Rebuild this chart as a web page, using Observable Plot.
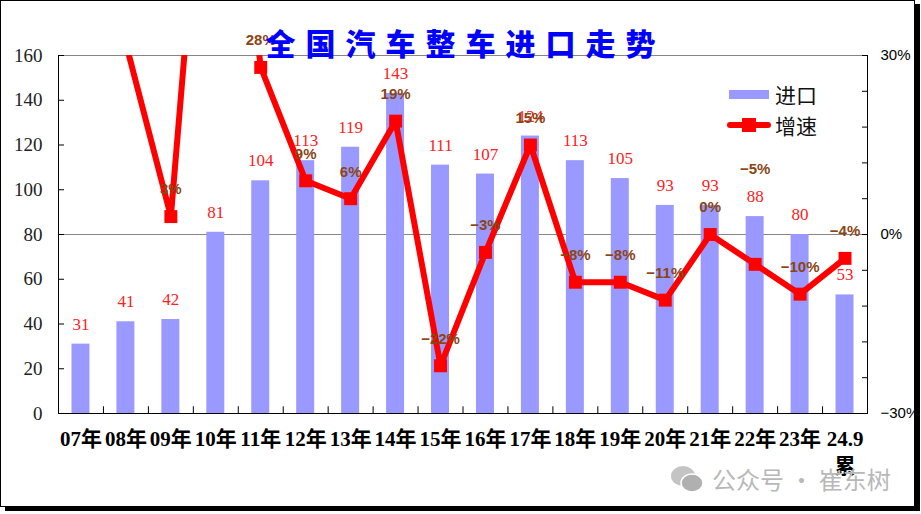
<!DOCTYPE html>
<html><head><meta charset="utf-8">
<script src="https://cdn.jsdelivr.net/npm/d3@7"></script>
<script src="https://cdn.jsdelivr.net/npm/@observablehq/plot@0.6"></script>
<style>
body{margin:0;background:#fff;}
#wrap{position:relative;width:921px;height:514px;overflow:hidden;}
#frame{position:absolute;left:0;top:0;width:913px;height:505px;border:1px solid #000;box-shadow:5px 4px 0 #000;}
#chart{position:absolute;left:0;top:0;}
#title{position:absolute;left:0;width:921px;top:20px;text-align:center;font:900 30px "Noto Sans CJK SC";color:#0000ff;letter-spacing:10px;padding-left:10px;box-sizing:border-box;}
.leg{position:absolute;font:21px "Noto Sans CJK SC";color:#111;}
#wm{position:absolute;left:670px;top:461px;font:24px "Noto Sans CJK SC";color:#b8b8b8;display:flex;align-items:center;gap:8px;}
</style></head><body>
<div id="wrap">
<div id="frame"></div>
<div id="chart"></div>
<div id="title"></div>
<div style="position:absolute;left:729px;top:90px;width:40px;height:9px;background:#9999ff"></div>
<div class="leg" style="left:775px;top:79px">进口</div>
<div style="position:absolute;left:727px;top:122px;width:44px;height:6px;background:#ff0000;border-radius:3px"></div>
<div style="position:absolute;left:742px;top:118px;width:14px;height:14px;background:#ff0000"></div>
<div class="leg" style="left:775px;top:110px">增速</div>
<div id="wm"><svg width="34" height="30" viewBox="0 0 34 30"><ellipse cx="13" cy="12" rx="12" ry="10" fill="#c4c4c4"/><ellipse cx="22" cy="19" rx="11" ry="9" fill="#b0b0b0" stroke="#fff" stroke-width="1.5"/></svg><span>公众号 · 崔东树</span></div>
</div>
<script>
const titleText = "全国汽车整车进口走势";
const years = ["07年","08年","09年","10年","11年","12年","13年","14年","15年","16年","17年","18年","19年","20年","21年","22年","23年","24.9\n累"];
const imports = [31,41,42,81,104,113,119,143,111,107,124,113,105,93,93,88,80,53];
const growth = [null,32,3,93,28,9,6,19,-22,-3,15,-8,-8,-11,0,-5,-10,-4];
const leftTicks = [0,20,40,60,80,100,120,140,160];
const rightTicks = [-30,-24,-18,-12,-6,0,6,12,18,24,30];
const rightLabels = {"-30":"\u221230%","0":"0%","30":"30%"};
const seriesNames = ["进口","增速"];

document.getElementById("title").textContent = titleText;

const toY = g => 80 + g * 80 / 30;
const data = years.map((year, i) => ({year, v: imports[i], g: growth[i]}));
const lineData = data.filter(d => d.g != null);
const labelData = lineData.filter(d => d.g <= 30);
const special = "22年";

const chart = Plot.plot({
  width: 921, height: 514,
  marginLeft: 58, marginRight: 54, marginTop: 55, marginBottom: 101,
  style: {background: "transparent", overflow: "visible", color: "#000", fontFamily: "'Liberation Serif','Noto Sans CJK SC'"},
  x: {domain: years, paddingInner: 0.6, paddingOuter: 0.3, round: false, label: null},
  y: {domain: [0, 160], label: null},
  marks: [
    Plot.frame({stroke: "#000"}),
    Plot.ruleY([80, 160], {stroke: "#868686"}),
    Plot.barY(data, {x: "year", y: "v", fill: "#9999ff"}),
    Plot.ruleX(years.slice(1), {x: d => d, dx: -22.47, y1: 0, y2: 3, stroke: "#000"}),
    Plot.axisY(leftTicks, {anchor: "left", tickSize: -6, tickPadding: 22, fontSize: 19, fill: "#222", label: null}),
    Plot.axisY(rightTicks.map(toY), {anchor: "right", tickSize: -6, tickPadding: 19, fontSize: 15, fontFamily: "'Liberation Sans Narrow','Liberation Sans'", tickFormat: v => rightLabels[String(Math.round((v - 80) * 30 / 80))] || "", label: null}),
    Plot.axisX({anchor: "bottom", tickSize: 0, tickPadding: 13, fontSize: 21, fontWeight: "bold", lineHeight: 1.3, label: null}),
    Plot.text(data, {x: "year", y: "v", text: d => String(d.v), dy: -20, fill: "#ff2020", fontSize: 17, fontFamily: "'Liberation Serif'"}),
    Plot.lineY(lineData, {x: "year", y: d => toY(d.g), stroke: "#ff0000", strokeWidth: 6, clip: true}),
    Plot.dot(lineData, {x: "year", y: d => toY(d.g), symbol: "square", r: 7.3, fill: "#ff0000", clip: true}),
    Plot.text(labelData.filter(d => d.year !== special), {x: "year", y: d => toY(d.g), text: d => (d.g < 0 ? "\u2212" + (-d.g) : d.g) + "%", dy: -27, fill: "#8b4513", fontSize: 15, fontWeight: "bold", fontFamily: "'Liberation Sans'"}),
    Plot.text(labelData.filter(d => d.year === special), {x: "year", y: d => toY(d.g), text: d => (d.g < 0 ? "\u2212" + (-d.g) : d.g) + "%", dy: -95, fill: "#8b4513", fontSize: 15, fontWeight: "bold", fontFamily: "'Liberation Sans'"})
  ]
});
document.getElementById("chart").append(chart);
</script>
</body></html>
